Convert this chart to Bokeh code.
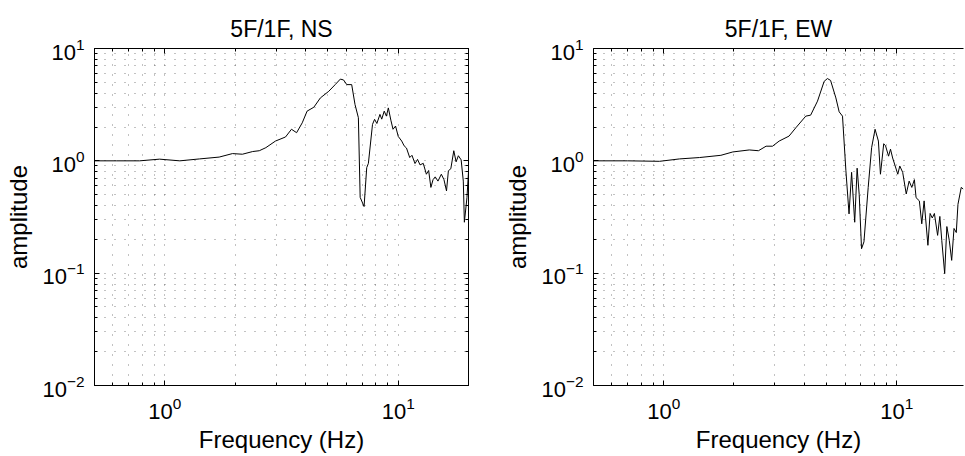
from bokeh.plotting import figure
from bokeh.models import Range1d, FixedTicker, LogAxis
from bokeh.layouts import row
from bokeh.embed import file_html
from bokeh.resources import INLINE

# ---- data ----
f_ns = [0.5, 0.62, 0.78, 0.95, 1.16, 1.41, 1.71, 1.95, 2.15, 2.38, 2.54, 2.71, 2.98,
        3.29, 3.49, 3.67, 3.88, 4.07, 4.35, 4.64, 5.04, 5.37, 5.65, 5.83, 6.02, 6.32,
        6.53, 6.75, 6.87, 7.14, 7.33, 7.45, 7.76, 7.92, 8.1, 8.35, 8.5, 8.71, 8.9,
        9.07, 9.3, 9.5, 9.74, 10.0, 10.35, 10.6, 10.85, 11.2, 11.45, 11.8, 12.1, 12.4,
        12.8, 13.2, 13.5, 13.8, 14.1, 14.4, 14.8, 15.3, 15.7, 16.1, 16.4, 16.8, 17.3,
        17.7, 18.1, 18.6, 19.0, 19.2, 19.7, 20.0]
a_ns = [1.0, 1.0, 1.0, 1.035, 1.0, 1.04, 1.08, 1.16, 1.145, 1.21, 1.23, 1.31, 1.50,
        1.63, 1.91, 1.78, 2.18, 2.77, 3.0, 3.63, 4.16, 4.77, 5.34, 5.25, 4.77, 4.77,
        3.17, 2.42, 0.473, 0.392, 0.87, 0.95, 2.11, 2.34, 2.15, 2.59, 2.35, 2.77, 2.5,
        2.96, 2.3, 1.91, 2.04, 1.65, 1.5, 1.36, 1.3, 1.07, 1.12, 0.946, 1.03, 0.92,
        0.95, 0.76, 0.82, 0.58, 0.68, 0.72, 0.66, 0.76, 0.68, 0.54, 0.816, 0.85, 1.23,
        0.98, 1.11, 1.02, 0.66, 0.284, 0.47, 0.8]

f_ew = [0.5, 0.7, 0.96, 1.17, 1.425, 1.76, 1.98, 2.33, 2.55, 2.75, 2.93, 3.13, 3.45,
        3.69, 4.07, 4.27, 4.57, 4.88, 5.04, 5.2, 5.48, 5.66, 5.85, 6.05, 6.24, 6.4,
        6.6, 6.76, 6.9, 7.06, 7.23, 7.54, 7.8, 8.07, 8.34, 8.51, 8.79, 8.95, 9.22,
        9.4, 9.6, 10.1, 10.3, 10.6, 10.98, 11.3, 11.6, 11.9, 12.1, 12.5, 12.8, 13.1,
        13.6, 13.9, 14.2, 14.5, 14.97, 15.3, 15.6, 16.05, 16.4, 16.8, 17.2, 17.6,
        18.0, 18.3, 18.9, 19.3]
a_ew = [1.0, 1.0, 0.99, 1.04, 1.07, 1.12, 1.2, 1.25, 1.23, 1.35, 1.35, 1.5, 1.66,
        1.97, 2.5, 2.55, 3.4, 5.1, 5.4, 5.2, 3.63, 2.73, 2.5, 0.816, 0.337, 0.79,
        0.284, 0.86, 0.5, 0.165, 0.19, 0.58, 1.31, 1.91, 1.5, 0.76, 1.42, 1.36, 1.1,
        1.27, 1.06, 0.76, 0.9, 0.79, 0.507, 0.66, 0.58, 0.68, 0.47, 0.44, 0.275, 0.44,
        0.177, 0.34, 0.31, 0.34, 0.217, 0.32, 0.195, 0.099, 0.26, 0.195, 0.13, 0.25,
        0.23, 0.41, 0.58, 0.56]

titles = ["5F/1F, NS", "5F/1F, EW"]
x_label = "Frequency (Hz)"
y_label = "amplitude"

x_major = [0.1, 1, 10, 100]
x_minor = [0.5, 0.6, 0.7, 0.8, 0.9, 2, 3, 4, 5, 6, 7, 8, 9, 20]
y_major = [0.01, 0.1, 1, 10]
y_minor = [m * d for d in (0.01, 0.1, 1) for m in range(2, 10)]

FONT = "Liberation Sans"


def style_axis(ax, show_labels=True):
    ax.axis_line_color = "black"
    ax.axis_line_width = 1
    ax.major_tick_in = 5
    ax.major_tick_out = 0
    ax.minor_tick_in = 3
    ax.minor_tick_out = 0
    ax.major_tick_line_color = "black"
    ax.minor_tick_line_color = "black"
    ax.major_label_text_font = FONT
    ax.axis_label_text_font = FONT
    ax.axis_label_text_font_style = "normal"
    ax.axis_label_text_font_size = "24px"
    ax.axis_label_text_color = "black"
    if show_labels:
        ax.major_label_text_font_size = "22px"
        ax.major_label_text_color = "black"
    else:
        ax.major_label_text_font_size = "2px"
        ax.major_label_text_color = None
        ax.major_label_standoff = 0


def make_panel(f, a, title, width, bl, br, xmax, right_frame, title_offset):
    p = figure(width=width, height=455, x_axis_type="log", y_axis_type="log",
               x_range=Range1d(0.5, xmax), y_range=Range1d(0.01, 10),
               output_backend="svg", toolbar_location=None, title=title,
               min_border_left=bl, min_border_right=br,
               min_border_top=48, min_border_bottom=68)
    p.title.align = "center"
    p.title.vertical_align = "top"
    p.title.text_font = FONT
    p.title.text_font_style = "normal"
    p.title.text_font_size = "23px"
    p.title.text_color = "black"
    p.title.offset = title_offset
    p.background_fill_color = "white"
    p.border_fill_color = "white"
    p.outline_line_color = "black" if right_frame else None

    xt = FixedTicker(ticks=x_major, minor_ticks=x_minor)
    yt = FixedTicker(ticks=y_major, minor_ticks=y_minor)
    p.xaxis.ticker = xt
    p.yaxis.ticker = yt
    p.xaxis.axis_label = x_label
    p.yaxis.axis_label = y_label
    for ax in p.xaxis + p.yaxis:
        style_axis(ax)
    p.xaxis.major_label_standoff = 11
    p.yaxis.major_label_standoff = 10
    p.xaxis.axis_label_standoff = 4
    p.yaxis.axis_label_standoff = 7

    top = LogAxis(ticker=xt)
    style_axis(top, show_labels=False)
    p.add_layout(top, "above")
    if right_frame:
        rgt = LogAxis(ticker=yt)
        style_axis(rgt, show_labels=False)
        p.add_layout(rgt, "right")

    for g in (p.xgrid, p.ygrid):
        g.grid_line_color = "#333333"
        g.grid_line_alpha = 0.6
        g.grid_line_dash = "1 9"
        g.grid_line_width = 1
        g.minor_grid_line_color = "#333333"
        g.minor_grid_line_alpha = 0.6
        g.minor_grid_line_dash = "1 9"
        g.minor_grid_line_width = 1

    p.line(f, a, line_color="black", line_width=1)
    return p


p1 = make_panel(f_ns, a_ns, titles[0], 488, 94, 20, 20.0, True, 0)
p2 = make_panel(f_ew, a_ew, titles[1], 476, 105, 1, 19.33, False, 1)

layout = row(p1, p2)
open("out.html", "w").write(file_html(layout, INLINE))
